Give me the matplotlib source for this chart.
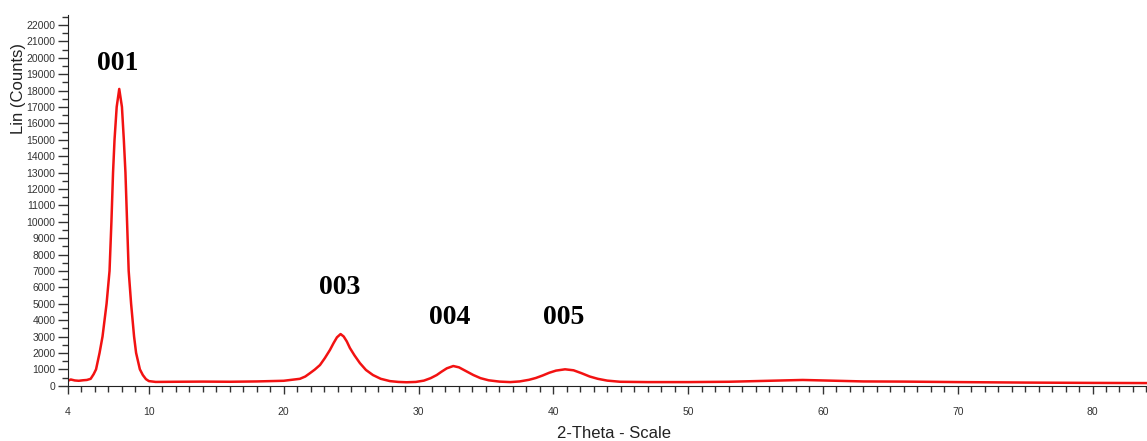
import matplotlib
matplotlib.use('Agg')
import matplotlib.pyplot as plt
from matplotlib.ticker import MultipleLocator, FixedLocator

# 2-theta (deg) and intensity (counts)
two_theta = [4.0, 4.2, 4.5, 4.8, 5.1, 5.4, 5.68, 5.9, 6.08, 6.34, 6.56, 6.86,
             7.08, 7.22, 7.34, 7.45, 7.61, 7.80, 8.00, 8.14, 8.26, 8.38, 8.50,
             8.68, 8.90, 9.05, 9.33, 9.55, 9.78, 10.0, 10.5, 12.0, 14.0, 16.0,
             18.0, 20.0, 21.2, 21.6, 21.94, 22.3, 22.69, 23.05, 23.43, 23.7,
             23.95, 24.22, 24.45, 24.68, 24.91, 25.25, 25.65, 26.1, 26.62, 27.2,
             27.88, 28.5, 29.12, 29.8, 30.4, 30.9, 31.35, 31.7, 32.1, 32.58,
             33.0, 33.5, 34.07, 34.6, 35.2, 36.0, 36.8, 37.5, 38.2, 38.7, 39.2,
             39.7, 40.2, 40.87, 41.5, 42.1, 42.7, 43.3, 44.0, 44.95, 47.0, 50.0,
             53.0, 56.0, 58.5, 60.0, 63.0, 66.0, 70.0, 75.0, 80.0, 84.0]
counts = [300, 380, 320, 300, 330, 350, 420, 700, 1000, 2000, 3000, 5000,
          7000, 10000, 13000, 15000, 17000, 18100, 17000, 15000, 13000, 10000, 7000,
          5000, 3000, 2000, 1000, 650, 400, 280, 230, 240, 250, 240,
          260, 300, 420, 560, 760, 980, 1260, 1680, 2180, 2600,
          2950, 3150, 3000, 2700, 2300, 1850, 1380, 960, 650, 420,
          280, 230, 210, 230, 310, 460, 650, 850, 1060, 1200,
          1120, 900, 650, 460, 330, 250, 220, 260, 360, 470, 620,
          790, 920, 1000, 940, 760, 560, 420, 310, 240, 220, 220,
          240, 300, 350, 320, 260, 250, 220, 190, 170, 160]

peak_labels = ['001', '003', '004', '005']
label_x = [7.67, 24.17, 32.33, 40.8]
label_y = [19650, 5960, 4190, 4190]

x_ticks = [4, 10, 20, 30, 40, 50, 60, 70, 80]

fig = plt.figure(figsize=(11.47, 4.41), dpi=100)
ax = fig.add_axes([0.0593, 0.1254, 0.9407, 0.8406])

ax.plot(two_theta, counts, color='#f21212', lw=1.8)

for lab, lx, ly in zip(peak_labels, label_x, label_y):
    ax.text(lx, ly, lab, ha='center', va='center', fontsize=20,
            fontweight='bold', family='Liberation Serif')

ax.set_xlim(4, 84.04)
ax.set_ylim(0, 22610)

ax.xaxis.set_major_locator(FixedLocator(x_ticks))
ax.xaxis.set_minor_locator(MultipleLocator(1))
ax.yaxis.set_major_locator(MultipleLocator(1000))
ax.yaxis.set_minor_locator(MultipleLocator(500))

ax.tick_params(axis='x', which='major', length=6, width=1, pad=9,
               labelsize=7.5, colors='#333333')
ax.tick_params(axis='x', which='minor', length=4, width=1, colors='#333333')
ax.tick_params(axis='y', which='major', length=7, width=1, pad=2,
               labelsize=7.5, colors='#333333')
ax.tick_params(axis='y', which='minor', length=4, width=1, colors='#333333')
for lbl in ax.get_xticklabels() + ax.get_yticklabels():
    lbl.set_family('Liberation Sans')

ax.spines['top'].set_visible(False)
ax.spines['right'].set_visible(False)
ax.spines['left'].set_color('#222222')
ax.spines['bottom'].set_color('#222222')

fig.text(0.0165, 0.80, 'Lin (Counts)', rotation=90, ha='center', va='center',
         fontsize=12, family='Liberation Sans', color='#222222')
fig.text(0.535, 0.016, '2-Theta - Scale', ha='center', va='center',
         fontsize=12, family='Liberation Sans', color='#222222')

plt.savefig('out.png', dpi=100)
